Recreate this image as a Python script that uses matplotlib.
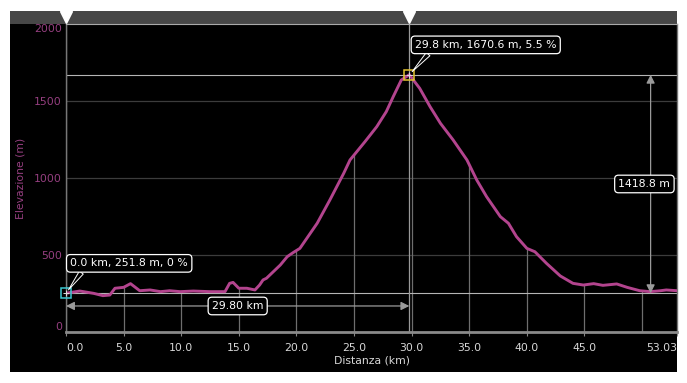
import matplotlib
matplotlib.use('Agg')
import matplotlib.pyplot as plt
from matplotlib.patches import Rectangle
import numpy as np

# elevation profile
dist_km = [0.0, 1.2, 2.4, 3.2, 3.8, 4.25, 5.0, 5.6, 6.4, 7.3, 8.2, 9.0, 9.9, 11.05,
           12.5, 13.8, 14.2, 14.5, 15.0, 15.7, 16.4, 16.8, 17.1, 17.4, 18.6, 19.2,
           19.7, 20.3, 21.8, 22.9, 24.1, 24.65, 25.95, 26.97, 27.8, 28.4, 29.1,
           29.8, 30.7, 31.6, 32.5, 33.6, 34.8, 35.65, 36.5, 37.7, 38.4, 39.1,
           40.0, 40.7, 41.7, 42.9, 44.0, 44.9, 45.8, 46.6, 47.8, 48.7, 49.8,
           50.7, 51.6, 52.1, 53.03]
elev_m = [251.8, 266, 251, 236, 240, 284, 290, 314, 268, 273, 262, 268, 262, 266,
          262, 262, 316, 322, 284, 284, 273, 305, 338, 349, 435, 489,
          515, 543, 706, 857, 1030, 1117, 1236, 1333, 1431, 1528, 1636,
          1670.6, 1582, 1463, 1355, 1247, 1117, 987, 879, 749, 706, 619,
          543, 521, 446, 364, 316, 305, 314, 303, 312, 290, 268,
          262, 268, 273, 268]
x_ticks = [0, 5, 10, 15, 20, 25, 30, 35, 40, 45, 53.03]
x_tick_labels = ['0.0', '5.0', '10.0', '15.0', '20.0', '25.0', '30.0', '35.0',
                 '40.0', '45.0', '53.03']
drop_lines = [5, 10, 15, 20, 25, 30, 35, 40, 45, 50]
y_ticks = [0, 500, 1000, 1500, 2000]
start_grade = 0
peak_grade = 5.5

LINE = '#b3448e'
YCOL = '#963f80'
TXT = '#d8d8d8'
FS = 7.8

plt.rcParams['font.family'] = ['DejaVu Sans']

W, H = 687, 383
fig = plt.figure(figsize=(W / 100, H / 100), dpi=100, facecolor='white')
fig.patches.append(Rectangle((10 / W, 11 / H), 667 / W, 361 / H,
                             transform=fig.transFigure, fc='black', ec='none', zorder=-10))
fig.patches.append(Rectangle((10 / W, (H - 24) / H), 667 / W, 13 / H,
                             transform=fig.transFigure, fc='#474747', ec='none', zorder=-9))

ax = fig.add_axes([66 / W, 51 / H, 611 / W, 308 / H])
ax.set_zorder(5)
ax.set_facecolor('black')
ax.set_xlim(0, 53.03)
ax.set_ylim(0, 2000)

# grid
for y in [500, 1000, 1500]:
    ax.axhline(y, color='#3c3c3c', lw=0.9, zorder=1)
dist = np.array(dist_km)
elev = np.array(elev_m)
ax.vlines(drop_lines, 0, np.interp(drop_lines, dist, elev), color='#6e6e6e', lw=0.9, zorder=1)

ipk = int(np.argmax(elev))
x0, y0 = dist[0], elev[0]
xp, yp = dist[ipk], elev[ipk]

# crosshair lines
ax.axhline(yp, color='#b5b5b5', lw=0.8, zorder=2)
ax.axhline(y0, color='#b5b5b5', lw=0.8, zorder=2)
ax.axvline(xp, color='#9a9a9a', lw=0.9, zorder=2)
ax.axvline(x0, color='#9a9a9a', lw=0.9, zorder=2)

ax.plot(dist, elev, color=LINE, lw=2.1, zorder=4, solid_joinstyle='round')

# markers
ax.plot(x0, y0, marker='s', ms=7, mfc='none', mec='#3cc8d2', mew=1.1, clip_on=False, zorder=6)
ax.plot(x0, y0, marker='+', ms=4, mec='#dddddd', mew=0.7, clip_on=False, zorder=6)
ax.plot(xp, yp, marker='s', ms=7, mfc='none', mec='#e3c22e', mew=1.1, clip_on=False, zorder=6)
ax.plot(xp, yp, marker='+', ms=4, mec='#dddddd', mew=0.7, clip_on=False, zorder=6)

box = dict(boxstyle='round,pad=0.35,rounding_size=0.35', fc='black', ec='white', lw=0.9)
wedge = dict(arrowstyle='wedge,tail_width=0.45,shrink_factor=0.5', fc='black', ec='white',
             lw=0.7, relpos=(0.12, 0.0), shrinkA=0, shrinkB=3)
ax.annotate(f'{x0:.1f} km, {y0:.1f} m, {start_grade} %', xy=(x0, y0), xytext=(45.5, 21.5),
            textcoords='offset points', ha='center', va='center', color='white',
            fontsize=FS, bbox=box, arrowprops=wedge, zorder=7, annotation_clip=False)
ax.annotate(f'{xp:.1f} km, {yp:.1f} m, {peak_grade} %', xy=(xp, yp), xytext=(55, 21.5),
            textcoords='offset points', ha='center', va='center', color='white',
            fontsize=FS, bbox=box, arrowprops=wedge, zorder=7, annotation_clip=False)

# dimension arrows
arr = dict(arrowstyle='<|-|>,head_length=0.5,head_width=0.25', color='#9a9a9a', lw=0.9,
           shrinkA=0, shrinkB=0, mutation_scale=10)
y_dim = 169
ax.annotate('', xy=(x0, y_dim), xytext=(xp, y_dim), arrowprops=arr, zorder=5)
ax.text((x0 + xp) / 2, y_dim, f'{xp - x0:.2f} km', ha='center', va='center', color='white',
        fontsize=FS, bbox=box, zorder=7)
x_dim = 50.74
ax.annotate('', xy=(x_dim, y0), xytext=(x_dim, yp), arrowprops=arr, zorder=5)
ax.text(50.2, (y0 + yp) / 2, f'{yp - y0:.1f} m', ha='center', va='center', color='white',
        fontsize=FS, bbox=box, zorder=7)

# pins on the top bar
tr = ax.get_xaxis_transform()
ax.plot([x0, xp], [1.022, 1.022], 'v', ms=8, color='white', transform=tr,
        clip_on=False, zorder=8)

# axes styling
for s in ['left', 'right']:
    ax.spines[s].set_color('#777777')
    ax.spines[s].set_linewidth(1.0)
ax.spines['bottom'].set_color('#8a8a8a')
ax.spines['bottom'].set_linewidth(2.0)
ax.spines['top'].set_color('#aaaaaa')
ax.spines['top'].set_linewidth(0.8)

ax.set_xticks(x_ticks)
ax.set_xticklabels(x_tick_labels)
ax.tick_params(axis='x', colors='#888888', labelcolor=TXT, labelsize=FS, length=3, pad=5)
xl = ax.get_xticklabels()
xl[0].set_ha('left')
xl[-1].set_ha('right')

ax.set_yticks(y_ticks)
ax.set_yticklabels([str(v) for v in y_ticks])
ax.tick_params(axis='y', colors='#555555', labelcolor=YCOL, labelsize=FS, length=0, pad=3)
yl = ax.get_yticklabels()
yl[0].set_va('bottom')
yl[-1].set_va('top')

ax.set_xlabel('Distanza (km)', color=TXT, fontsize=FS, labelpad=2)
ax.set_ylabel('Elevazione (m)', color=YCOL, fontsize=FS, labelpad=6)

fig.savefig('out.png', dpi=100, facecolor='white')
